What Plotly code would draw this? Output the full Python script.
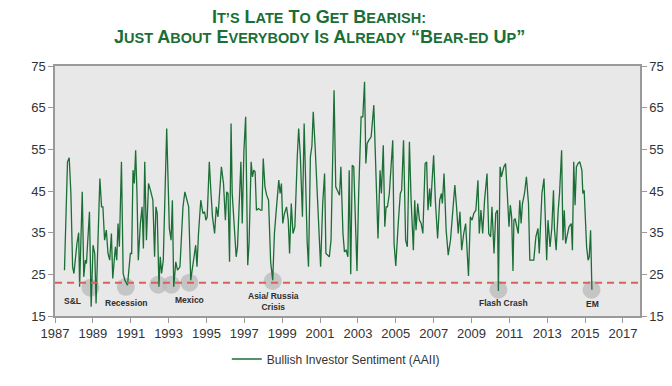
import plotly.graph_objects as go

# ---- data ----
years = [
    1987.50, 1987.66, 1987.75, 1987.84, 1987.93, 1988.00, 1988.16, 1988.25, 1988.30, 1988.44,
    1988.52, 1988.60, 1988.66, 1988.82, 1988.91, 1989.01, 1989.10, 1989.17, 1989.37, 1989.46,
    1989.53, 1989.62, 1989.71, 1989.80, 1989.89, 1989.98, 1990.05, 1990.12, 1990.19, 1990.26,
    1990.33, 1990.40, 1990.51, 1990.60, 1990.69, 1990.83, 1990.98, 1991.05, 1991.12, 1991.19,
    1991.26, 1991.33, 1991.40, 1991.51, 1991.60, 1991.67, 1991.74, 1991.83, 1991.94, 1992.04,
    1992.17, 1992.26, 1992.33, 1992.40, 1992.49, 1992.56, 1992.63, 1992.72, 1992.90, 1993.04,
    1993.13, 1993.20, 1993.27, 1993.38, 1993.47, 1993.60, 1993.76, 1993.86, 1993.99, 1994.06,
    1994.17, 1994.31, 1994.43, 1994.50, 1994.58, 1994.70, 1994.81, 1994.90, 1994.97, 1995.04,
    1995.15, 1995.24, 1995.32, 1995.43, 1995.52, 1995.61, 1995.70, 1995.79, 1995.90, 1996.00,
    1996.07, 1996.14, 1996.22, 1996.30, 1996.36, 1996.47, 1996.57, 1996.64, 1996.75, 1996.82,
    1996.89, 1996.98, 1997.07, 1997.18, 1997.25, 1997.36, 1997.43, 1997.50, 1997.57, 1997.64,
    1997.75, 1997.86, 1997.93, 1998.00, 1998.09, 1998.18, 1998.28, 1998.39, 1998.50, 1998.59,
    1998.68, 1998.82, 1998.89, 1998.96, 1999.03, 1999.12, 1999.23, 1999.32, 1999.39, 1999.48,
    1999.57, 1999.67, 1999.80, 1999.87, 1999.96, 2000.07, 2000.16, 2000.24, 2000.32, 2000.39,
    2000.49, 2000.57, 2000.64, 2000.74, 2000.81, 2000.89, 2000.96, 2001.03, 2001.14, 2001.24,
    2001.31, 2001.39, 2001.49, 2001.58, 2001.74, 2001.83, 2001.96, 2002.03, 2002.10, 2002.21,
    2002.29, 2002.38, 2002.47, 2002.54, 2002.62, 2002.70, 2002.78, 2002.88, 2002.95, 2003.04,
    2003.17, 2003.26, 2003.35, 2003.42, 2003.49, 2003.58, 2003.70, 2003.84, 2003.93, 2004.06,
    2004.17, 2004.24, 2004.34, 2004.42, 2004.49, 2004.56, 2004.66, 2004.77, 2004.84, 2004.91,
    2005.00, 2005.13, 2005.24, 2005.31, 2005.41, 2005.52, 2005.61, 2005.72, 2005.81, 2005.93,
    2006.00, 2006.07, 2006.16, 2006.25, 2006.34, 2006.43, 2006.55, 2006.63, 2006.70, 2006.79,
    2006.84, 2006.91, 2007.00, 2007.09, 2007.21, 2007.32, 2007.41, 2007.46, 2007.55, 2007.66,
    2007.77, 2007.89, 2008.02, 2008.12, 2008.21, 2008.30, 2008.39, 2008.48, 2008.59, 2008.69,
    2008.84, 2008.94, 2009.03, 2009.12, 2009.23, 2009.34, 2009.41, 2009.50, 2009.59, 2009.69,
    2009.82, 2009.91, 2010.01, 2010.08, 2010.19, 2010.28, 2010.37, 2010.42, 2010.51, 2010.58,
    2010.71, 2010.80, 2010.89, 2010.98, 2011.05, 2011.12, 2011.19, 2011.24, 2011.30, 2011.37,
    2011.47, 2011.55, 2011.62, 2011.69, 2011.80, 2011.90, 2012.01, 2012.08, 2012.19, 2012.29,
    2012.40, 2012.51, 2012.58, 2012.72, 2012.83, 2012.90, 2012.97, 2013.04, 2013.15, 2013.24,
    2013.33, 2013.38, 2013.47, 2013.58, 2013.65, 2013.76, 2013.83, 2013.90, 2013.97, 2014.04,
    2014.15, 2014.27, 2014.33, 2014.40, 2014.47, 2014.54, 2014.63, 2014.72, 2014.83, 2014.88,
    2014.95, 2015.08, 2015.16, 2015.22, 2015.29, 2015.36,
]
bullish = [
    26.0, 52.0, 53.0, 44.4, 26.8, 25.2, 32.4, 35.0, 22.0, 44.8,
    24.4, 28.4, 27.6, 40.0, 17.2, 32.0, 30.0, 18.0, 48.0, 41.2,
    41.2, 33.2, 35.6, 30.0, 28.4, 34.8, 24.0, 28.4, 31.6, 28.4,
    37.2, 31.6, 52.0, 25.2, 23.6, 22.4, 30.0, 30.0, 50.0, 46.8,
    54.8, 44.4, 28.4, 37.2, 41.2, 31.2, 52.0, 33.2, 46.8, 45.2,
    42.8, 29.2, 41.2, 39.6, 22.0, 29.2, 25.2, 28.4, 60.0, 36.0,
    33.2, 42.8, 22.0, 28.0, 26.0, 26.8, 41.2, 44.8, 42.8, 41.2,
    23.6, 28.4, 32.0, 26.8, 34.8, 42.8, 39.6, 40.0, 38.0, 38.8,
    52.0, 44.4, 38.8, 34.8, 41.2, 38.8, 46.0, 50.8, 46.8, 38.0,
    44.8, 44.4, 28.0, 61.2, 44.4, 36.4, 29.2, 31.6, 44.0, 52.0,
    37.2, 54.8, 62.8, 27.2, 32.4, 52.0, 48.4, 50.0, 49.6, 40.4,
    40.8, 40.4, 40.4, 52.8, 46.0, 44.0, 42.8, 28.0, 23.6, 34.8,
    40.0, 47.6, 44.4, 46.8, 37.2, 39.6, 41.2, 38.0, 30.0, 42.0,
    34.8, 36.4, 53.6, 60.0, 53.2, 38.8, 61.2, 46.0, 32.8, 26.8,
    53.2, 55.8, 64.0, 55.6, 48.8, 40.4, 34.8, 26.8, 42.0, 49.2,
    30.0, 29.6, 29.2, 33.2, 69.2, 46.0, 44.4, 44.0, 50.8, 34.8,
    30.4, 30.8, 29.2, 50.0, 25.0, 51.2, 50.8, 36.4, 25.8, 44.4,
    62.8, 62.8, 71.2, 51.6, 56.4, 57.2, 58.0, 65.6, 52.4, 33.6,
    50.0, 44.4, 56.0, 36.4, 41.2, 41.2, 44.4, 50.8, 57.2, 32.4,
    27.0, 37.2, 44.4, 45.2, 57.2, 33.2, 31.6, 56.8, 42.8, 30.8,
    42.8, 35.6, 42.0, 38.0, 37.2, 34.8, 51.6, 52.0, 40.4, 45.6,
    41.2, 46.8, 53.6, 42.8, 33.6, 42.8, 44.4, 42.0, 49.2, 35.6,
    29.6, 33.2, 41.2, 46.4, 41.2, 34.8, 40.0, 30.8, 34.8, 37.2,
    24.6, 38.8, 38.0, 39.6, 40.4, 47.6, 34.8, 40.4, 34.8, 42.8,
    49.2, 34.8, 34.0, 41.2, 30.0, 39.6, 40.4, 21.0, 50.8, 48.4,
    50.8, 51.6, 44.4, 36.4, 41.6, 38.8, 25.8, 38.0, 38.4, 36.8,
    34.8, 42.8, 37.2, 42.0, 44.4, 48.4, 42.0, 28.4, 28.4, 28.4,
    34.0, 36.0, 30.0, 44.4, 48.0, 38.8, 28.4, 38.0, 31.6, 36.0,
    45.2, 36.0, 30.8, 40.4, 44.4, 54.8, 33.2, 40.4, 32.4, 34.0,
    36.4, 37.2, 30.8, 52.0, 41.6, 50.8, 51.6, 52.0, 50.0, 44.4,
    45.2, 31.6, 28.4, 29.2, 35.6, 21.3,
]
series_name = "Bullish Investor Sentiment (AAII)"
threshold = 23

# event markers (circle centre) and labels
event_years = [1988.87, 1990.74, 1992.45, 1993.15, 1994.10, 1998.50, 2010.42, 2015.34]
event_values = [21.8, 22.0, 22.5, 22.5, 23.0, 23.4, 21.3, 21.3]
label_texts = ["S&L", "Recession", "Mexico", "Asia/ Russia<br>Crisis", "Flash Crash", "EM"]
label_years = [1987.91, 1990.80, 1994.13, 1998.53, 2010.67, 2015.38]
label_values = [18.6, 18.2, 18.8, 18.4, 18.2, 17.9]

x_ticks = list(range(1987, 2018, 2))
y_ticks = [15, 25, 35, 45, 55, 65, 75]

GREEN = "#1b6e36"
FONT = "Liberation Sans, Arial, sans-serif"

fig = go.Figure()
fig.add_trace(go.Scatter(
    x=years, y=bullish, mode="lines", name=series_name,
    line=dict(color=GREEN, width=1.3), hoverinfo="x+y",
))
# invisible trace to bring up the right-hand axis
fig.add_trace(go.Scatter(
    x=[years[0]], y=[bullish[0]], yaxis="y2", mode="markers",
    marker=dict(opacity=0), showlegend=False, hoverinfo="skip",
))

shapes = [dict(
    type="line", xref="x", yref="y", x0=1987, x1=2017.9, y0=threshold, y1=threshold,
    line=dict(color="#d9605f", width=2, dash="7px,5px"), layer="above",
)]
for ex, ev in zip(event_years, event_values):
    shapes.append(dict(
        type="circle", xref="x", yref="y", xsizemode="pixel", ysizemode="pixel",
        xanchor=ex, yanchor=ev, x0=-9, x1=9, y0=-9, y1=9,
        fillcolor="rgba(185,185,185,0.75)", line=dict(width=0), layer="below",
    ))

annotations = []
for t, lx, lv in zip(label_texts, label_years, label_values):
    annotations.append(dict(
        x=lx, y=lv, xref="x", yref="y", text="<b>" + t + "</b>", showarrow=False,
        font=dict(family=FONT, size=8.5, color="#2e2e2e"), align="center",
    ))


def sc(big, small):
    return big + "<span style='font-size:14.5px'>" + small + "</span>"


title1 = " ".join([sc("I", "T’S"), sc("L", "ATE"), sc("T", "O"), sc("G", "ET"), sc("B", "EARISH:")])
title2 = " ".join([sc("J", "UST"), sc("A", "BOUT"), sc("E", "VERYBODY"), sc("I", "S"),
                   sc("A", "LREADY"), "“" + sc("B", "EAR-ED"), sc("U", "P") + "”"])
for txt, yp in [(title1, 1.196), (title2, 1.114)]:
    annotations.append(dict(
        x=0.452, y=yp, xref="paper", yref="paper", text="<b>" + txt + "</b>",
        showarrow=False, xanchor="center", yanchor="middle",
        font=dict(family=FONT, size=18, color=GREEN),
    ))

axis_common = dict(showline=True, linecolor="#9a9a9a", linewidth=1.5, ticks="outside",
                   tickcolor="#9a9a9a", ticklen=5, tickwidth=1.2, showgrid=False, zeroline=False,
                   automargin=False,
                   tickfont=dict(family=FONT, size=13, color="#333333"))

# the page body has an 8px default margin, so the figure is sized/offset to compensate
fig.update_layout(
    width=664, height=378,
    margin=dict(l=47, r=32, t=58, b=62),
    paper_bgcolor="white", plot_bgcolor="#e8e8e8",
    showlegend=True,
    legend=dict(orientation="h", x=0.48, y=-0.172, xanchor="center", yanchor="middle",
                font=dict(family=FONT, size=12, color="#333333"), bgcolor="rgba(0,0,0,0)"),
    xaxis=dict(range=[1987, 2017.9], tickvals=x_ticks, mirror=True, **axis_common),
    yaxis=dict(range=[15, 75], tickvals=y_ticks, **axis_common),
    yaxis2=dict(range=[15, 75], tickvals=y_ticks, overlaying="y", side="right", **axis_common),
    shapes=shapes, annotations=annotations,
)

fig.write_html("out.html")
